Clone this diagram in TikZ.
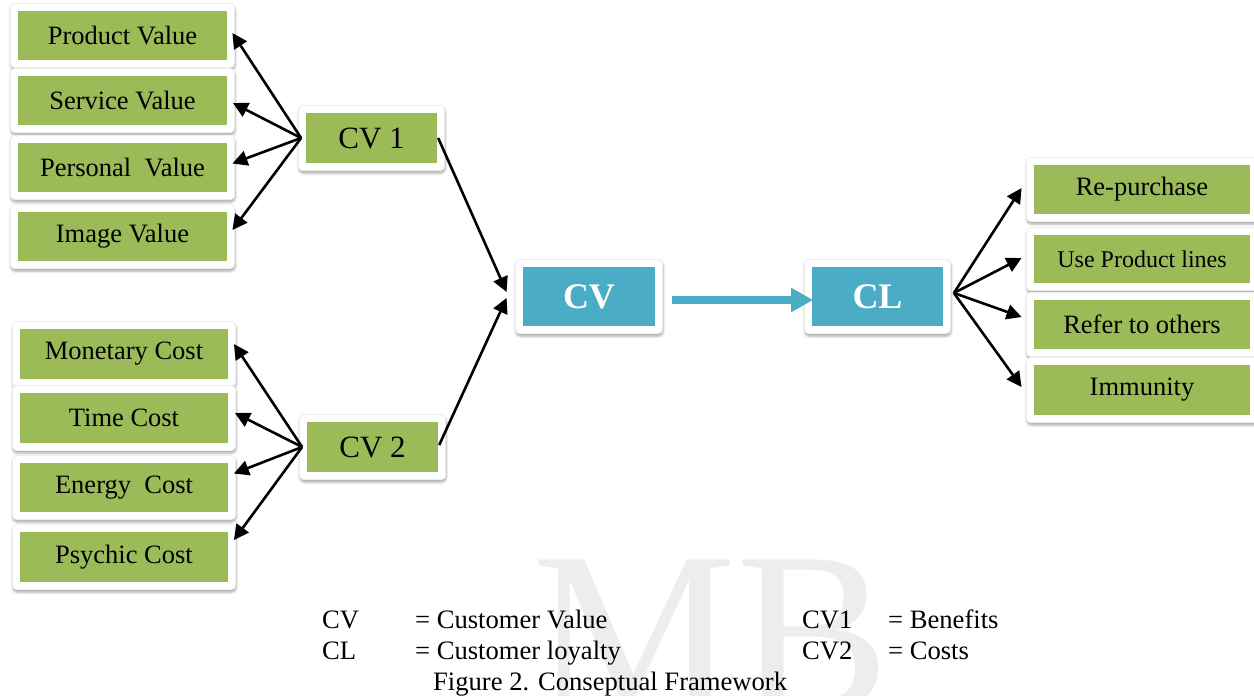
\documentclass[tikz,border=0pt]{standalone}
\usepackage{fontspec}
\setmainfont{Liberation Serif}
\usetikzlibrary{arrows.meta,shadows.blur}

\definecolor{leaf}{HTML}{9BBB59}
\definecolor{aqua}{HTML}{4BACC6}

\tikzset{
  panel/.style={fill=white, draw=black!7, line width=0.8pt, rounded corners=4pt, inner sep=0pt,
    blur shadow={shadow xshift=0.5pt, shadow yshift=-2.5pt, shadow blur radius=2.5pt, shadow opacity=35}},
  leafbox/.style={fill=leaf, draw=none, inner sep=0pt, font=\fontsize{26.5}{30}\selectfont},
  smallleaf/.style={leafbox, font=\fontsize{24}{28}\selectfont},
  sumbox/.style={leafbox, font=\fontsize{31}{34}\selectfont},
  aquabox/.style={fill=aqua, draw=none, inner sep=0pt, text=white, font=\bfseries\fontsize{36}{40}\selectfont},
  link/.style={draw=black, line width=2.6pt, -{Triangle[length=15pt,width=15pt]}},
  flow/.style={draw=aqua, line width=8pt, -{Triangle[length=22pt,width=23pt]}},
  legend/.style={anchor=base west, inner sep=0pt, font=\fontsize{26.6}{30}\selectfont},
  monostyle/.style={anchor=base west, inner sep=0pt, text=black!7, font=\fontsize{230}{230}\selectfont},
}

% a white framed tile with a coloured label box on it
% #1 name, #2 cx, #3 cy, #4 width, #5 height, #6 style, #7 text
\newcommand{\tile}[7]{%
  \node[panel, minimum width=#4pt+15pt, minimum height=#5pt+15pt] (#1-f) at (#2,#3) {};
  \node[#6, minimum width=#4pt, minimum height=#5pt] (#1) at (#2,#3) {#7};
}

\begin{document}
\begin{tikzpicture}[x=1pt,y=-1pt]
\useasboundingbox (0,0) rectangle (1254,696);
\clip (0,0) rectangle (1254,696);

% faint monogram in the background
\node[monostyle] (monogram) at (532,710) {MB};

% benefits
\tile{pv}{122.5}{35.5}{209}{49}{leafbox}{Product Value}
\tile{sv}{122.5}{100.5}{209}{49}{leafbox}{Service Value}
\tile{pe}{122.5}{167.5}{209}{49}{leafbox}{Personal\ \ Value}
\tile{iv}{122.5}{236.5}{209}{49}{leafbox}{Image Value}

% costs
\tile{mc}{124}{354}{208}{50}{leafbox}{Monetary Cost}
\tile{tc}{124}{418}{208}{50}{leafbox}{Time Cost}
\tile{ec}{124}{487.5}{208}{49}{leafbox}{Energy\ \ Cost}
\tile{pc}{124}{557}{208}{50}{leafbox}{Psychic Cost}

% dimensions
\tile{cva}{371.5}{138}{131}{50}{sumbox}{CV 1}
\tile{cvb}{372.5}{447}{131}{50}{sumbox}{CV 2}

% core constructs
\tile{cv}{589}{296.5}{132}{59}{aquabox}{CV}
\tile{cl}{877.5}{296.5}{131}{59}{aquabox}{CL}

% loyalty outcomes
\tile{rp}{1142}{189.5}{216}{49}{leafbox}{Re-purchase}
\tile{up}{1142}{259}{216}{48}{smallleaf}{Use Product lines}
\tile{ro}{1142}{324.5}{216}{49}{leafbox}{Refer to others}
\tile{im}{1142}{390}{216}{50}{leafbox}{Immunity}

% CV 1 to its benefits
\draw[link] ([xshift=3pt]cva-f.west) -- ([xshift=-2.5pt,yshift=2.5pt]pv-f.east);
\draw[link] ([xshift=3pt]cva-f.west) -- ([xshift=-2pt,yshift=-2.5pt]sv-f.east);
\draw[link] ([xshift=3pt]cva-f.west) -- ([xshift=-2.5pt,yshift=4pt]pe-f.east);
\draw[link] ([xshift=3pt]cva-f.west) -- ([xshift=-2.5pt,yshift=6.5pt]iv-f.east);

% CV 2 to its costs
\draw[link] ([xshift=3pt]cvb-f.west) -- ([xshift=-2pt,yshift=10pt]mc-f.east);
\draw[link] ([xshift=3pt]cvb-f.west) -- ([xshift=-1pt,yshift=5pt]tc-f.east);
\draw[link] ([xshift=3pt]cvb-f.west) -- ([xshift=-2pt,yshift=14pt]ec-f.east);
\draw[link] ([xshift=3pt]cvb-f.west) -- ([xshift=-2pt,yshift=17pt]pc-f.east);

% both dimensions feed customer value
\draw[link] ([xshift=1pt]cva.east) -- ([xshift=-8.5pt,yshift=4.5pt]cv-f.west);
\draw[link] ([xshift=1pt,yshift=2pt]cvb.east) -- ([xshift=-8.5pt,yshift=-1.5pt]cv-f.west);

% value drives loyalty
\draw[flow] ([xshift=9.5pt,yshift=-3.5pt]cv-f.east) -- ([xshift=9pt,yshift=-3.5pt]cl-f.west);

% loyalty outcomes
\draw[link] ([xshift=3pt,yshift=3.5pt]cl-f.east) -- ([xshift=-4.5pt,yshift=1.5pt]rp-f.west);
\draw[link] ([xshift=3pt,yshift=3.5pt]cl-f.east) -- ([xshift=-4.5pt,yshift=1pt]up-f.west);
\draw[link] ([xshift=3pt,yshift=3.5pt]cl-f.east) -- ([xshift=-4.5pt,yshift=7.5pt]ro-f.west);
\draw[link] ([xshift=3pt,yshift=3.5pt]cl-f.east) -- ([xshift=-4.5pt,yshift=3pt]im-f.west);

% key and caption
\node[legend] (k1) at (322,628) {CV};
\node[legend] (k2) at (415,628) {= Customer Value};
\node[legend] (k3) at (802,628) {CV1};
\node[legend] (k4) at (888,628) {= Benefits};
\node[legend] (k5) at (322,659) {CL};
\node[legend] (k6) at (415,659) {= Customer loyalty};
\node[legend] (k7) at (802,659) {CV2};
\node[legend] (k8) at (888,659) {= Costs};
\node[legend] (caption) at (433,690) {Figure 2. Conseptual Framework};
\end{tikzpicture}
\end{document}
